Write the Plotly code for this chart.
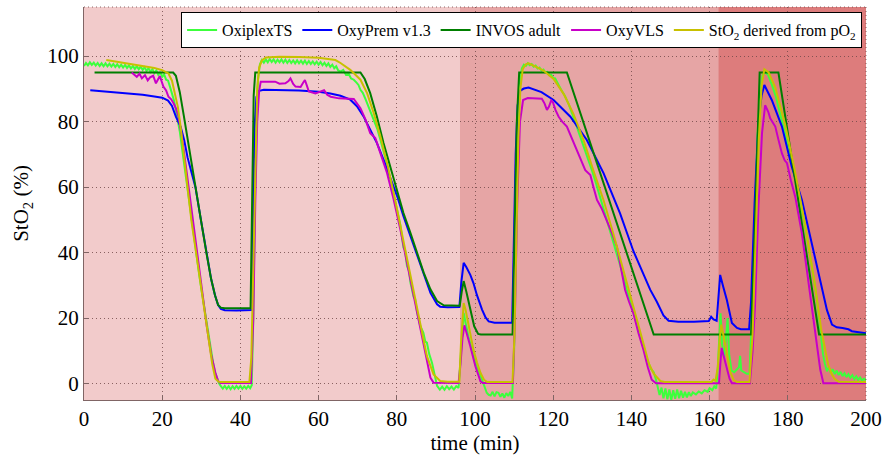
import plotly.graph_objects as go

# ---------------- data (time in min, StO2 in %) ----------------
oxiplex_t = [0, 0.5, 1, 1.5, 2, 2.5, 3, 3.5, 4, 4.5, 5, 5.5, 6, 6.5, 7, 7.5, 8, 8.5, 9, 9.5,
             10, 10.5, 11, 11.5, 12, 12.5, 13, 13.5, 14, 14.5, 15, 15.5, 16, 16.5, 17, 17.5, 18, 18.5, 19, 19.5,
             20, 20.5, 21, 21.5, 22, 22.5, 23, 23.5, 24, 24.5, 25, 25.5, 26, 26.5, 27, 27.5, 28, 28.5, 29, 29.5,
             30, 30.5, 31, 31.5, 32, 32.5, 33, 33.5, 34, 34.5, 35, 35.5, 36, 36.5, 37, 37.5, 38, 38.5, 39, 39.5,
             40, 40.5, 41, 41.5, 42, 42.5, 42.9, 43.3, 43.7, 44.1, 44.5, 45, 45.5, 46, 46.5, 47, 47.5, 48, 48.5, 49, 49.5,
             50, 50.5, 51, 51.5, 52, 52.5, 53, 53.5, 54, 54.5, 55, 55.5, 56, 56.5, 57, 57.5, 58, 58.5, 59, 59.5,
             60, 60.5, 61, 61.5, 62, 62.5, 63, 63.5, 64, 64.5, 65, 65.6, 66.3, 67, 67.7, 68.3, 69, 69.7, 70.2, 70.7,
             71.3, 72, 72.4, 73, 73.5, 74.1, 75, 75.8, 76.6, 77.5, 78.3, 79.2, 80, 80.9, 81.7, 82.1, 82.6, 83.1, 83.5,
             84.3, 84.7, 85.2, 86, 86.8, 87.3, 87.7, 88.3, 89, 89.6, 90.3, 91, 91.6, 92.2, 92.8, 93.4, 94, 94.6, 95.2,
             95.8, 96.3, 96.8, 97.1, 97.6, 98.3, 99.2, 100.2, 101.4, 102.5, 103, 103.5, 104, 104.5, 105, 105.5, 106,
             106.5, 107, 107.5, 108, 108.5, 109, 109.5, 110, 110.5, 111, 111.5, 112, 112.5, 113, 113.5, 114, 114.5,
             115, 115.5, 116, 116.5, 117, 117.5, 118, 118.5, 119, 119.5, 120, 120.5, 121, 121.5, 122, 123, 124, 125,
             126, 127, 128, 129, 130, 131, 132, 133, 134, 135, 136, 137, 138, 139, 140, 141, 142, 143, 144, 145,
             145.7, 146.3, 146.8, 147.2, 147.7, 148.2, 148.7, 149.2, 149.7, 150.2, 150.7, 151.2, 151.7, 152.2, 152.7,
             153.2, 153.7, 154.2, 154.7, 155.2, 155.7, 156.5, 157.2, 158, 158.7, 159.5, 160, 160.7, 161.2, 161.7,
             162.1, 162.5, 162.8, 163.2, 163.7, 164.2, 164.6, 165, 165.6, 166.3, 167, 167.5, 167.8, 168.1, 168.8,
             169.5, 170.2, 170.8, 171.5, 172.2, 172.9, 173.5, 174, 174.5, 175, 176, 177, 178, 179, 180, 181, 182,
             183, 184, 185, 186, 187, 187.6, 188, 188.5, 189, 189.5, 190, 190.5, 191, 191.5, 192, 192.5, 193, 193.5,
             194, 194.5, 195, 195.5, 196, 196.5, 197, 197.5, 198, 198.5, 199, 199.5, 200]
oxiplex_v = [97.0, 97.9, 97.2, 98.1, 97.3, 98.0, 97.1, 97.9, 97.0, 97.8, 96.9, 97.8, 96.9, 97.7, 96.8, 97.6, 96.7, 97.5, 96.6, 97.4,
             96.5, 97.3, 96.4, 97.2, 96.2, 97.0, 96.1, 96.9, 96.0, 96.8, 95.8, 96.6, 95.5, 96.3, 95.2, 96.0, 94.8, 95.6, 94.3, 95.1,
             93.7, 94.4, 92.8, 92.5, 90.6, 88.5, 86.5, 83.5, 80.5, 77.0, 72.5, 68.0, 63.5, 58.5, 54.5, 50.0, 46.0, 42.0, 37.5, 33.0,
             29.0, 25.0, 21.0, 17.0, 13.5, 10.0, 6.5, 3.5, 1.8, 0.2, -0.8, -1.5, -0.7, -1.6, -0.8, -1.7, -0.8, -1.6, -0.7, -1.5,
             -0.7, -1.6, -0.8, -1.5, -0.7, -1.4, -0.5, 20.0, 55.0, 82.0, 93.0, 97.5, 98.8, 98.0, 99.0, 98.1, 99.1, 98.2, 99.0, 98.0, 98.9,
             98.1, 99.0, 98.0, 98.9, 97.9, 98.8, 97.9, 98.7, 97.8, 98.7, 97.8, 98.6, 97.7, 98.6, 97.6, 98.5, 97.6, 98.4, 97.5, 98.3,
             97.4, 98.2, 97.2, 98.0, 97.0, 97.8, 96.7, 97.4, 96.3, 96.9, 95.6, 95.3, 95.8, 94.3, 94.6, 93.2, 92.8, 91.9, 91.2, 89.7,
             88.8, 86.9, 85.7, 84.2, 82.9, 80.6, 77.8, 74.5, 71.0, 67.0, 62.5, 58.0, 53.5, 48.5, 41.5, 40.8, 35.9, 34.5, 30.8,
             26.5, 25.8, 21.6, 17.6, 15.5, 12.8, 12.5, 9.0, 6.4, 3.5, -0.7, -1.8, -0.9, -1.9, -0.8, -1.7, -0.9, -1.8, -0.8,
             -1.3, 8.0, 18.0, 21.6, 18.5, 14.5, 10.5, 6.0, 2.5, -1.5, -2.8, -3.4, -3.6, -2.5, -3.9, -2.6, -2.8,
             -4.0, -3.0, -4.3, -2.9, -3.8, -2.5, -4.5, 10.0, 45.0, 80.0, 93.0, 96.3, 97.4, 97.0, 97.8, 97.2, 97.6,
             96.8, 97.1, 96.2, 96.5, 95.6, 95.9, 95.0, 95.2, 94.2, 94.3, 93.3, 93.2, 92.0, 91.3, 89.8, 87.8, 85.2, 82.0,
             78.6, 75.5, 72.0, 68.5, 64.8, 61.0, 57.0, 53.0, 49.0, 45.0, 41.0, 36.5, 32.5, 28.0, 24.0, 20.0, 16.0, 11.5, 7.5, 4.5,
             3.5, 1.2, -1.5, -3.5, -1.2, -4.5, -1.5, -4.8, -1.8, -5.0, -2.0, -4.6, -1.8, -4.5, -2.2,
             -4.3, -2.5, -4.2, -2.6, -3.8, -2.7, -3.3, -2.4, -3.0, -2.0, -2.5, -1.4, -2.0, -0.8, -1.5,
             5.0, 16.0, 21.5, 12.0, 8.0, 14.0, 20.0, 9.0, 4.0, 3.5, 4.5, 5.0, 8.5, 4.0, 3.5,
             3.0, 3.0, 20.0, 48.0, 75.0, 89.0, 94.0, 95.3, 94.8, 94.2, 91.0, 87.5, 82.5, 78.0, 73.0, 68.0, 62.5,
             56.5, 50.5, 44.0, 37.0, 29.5, 24.0, 19.5, 15.0, 9.0, 6.0, 3.8, 5.0, 3.3, 4.4, 2.9, 4.0, 2.6, 3.6,
             2.3, 3.2, 2.0, 2.9, 1.8, 2.6, 1.4, 2.2, 1.2, 1.9, 0.9, 1.5, 1.0]

oxyprem_t = [1.6, 5, 10, 15, 18, 20, 21.5, 22.5, 23.5, 24.7, 25.6, 26.5, 27.5, 28.5, 29.9, 31.3, 32.5, 33.5, 34.3, 35, 36, 39,
             42.8, 43.2, 43.6, 44.1, 44.8, 46, 50, 55, 60, 63, 65.6, 68.1, 69.8, 71.5, 73.2, 74.9, 76.6, 78.3, 80.1, 81.7,
             83.5, 85.2, 86.9, 88.6, 90.3, 91.1, 93, 96, 96.5, 97.1, 97.8, 98.8, 99.6, 100.5, 101.8, 102.7, 103.5, 105,
             109.5, 109.9, 110.4, 110.9, 111.6, 112.5, 113.7, 117, 120.1, 124.4, 128.6, 132.9, 137.1, 140.5, 144.8,
             146.5, 148.2, 149.5, 152, 156, 159.8, 160.4, 161, 161.8, 162.2, 162.7, 163.5, 164.4, 165.7, 167, 168,
             170.1, 170.6, 171.5, 172.5, 173.3, 174, 175.9, 178.5, 181, 183.6, 186.1, 188.7, 190, 191.3, 192.5, 194,
             195.5, 196.4, 198, 200]
oxyprem_v = [89.6, 89.3, 88.8, 88.2, 87.7, 87.3, 86.4, 84.8, 81.5, 78.5, 74.5, 69.0, 64.5, 60.0, 50.0, 40.0, 32.0, 27.0, 24.0, 22.8, 22.4, 22.3,
             22.5, 50.0, 78.0, 87.5, 89.4, 89.7, 89.7, 89.5, 89.1, 88.6, 87.9, 86.7, 84.7, 81.6, 77.5, 73.5, 68.4, 62.8, 57.2, 51.1,
             45.0, 38.9, 32.8, 27.7, 24.2, 23.5, 23.3, 23.4, 31.0, 36.9, 35.5, 33.2, 30.7, 27.0, 22.6, 20.2, 19.0, 18.6,
             18.6, 40.0, 70.0, 85.0, 89.5, 90.1, 90.4, 89.0, 86.6, 81.5, 74.4, 64.2, 52.0, 40.5, 28.7,
             25.0, 20.8, 19.2, 18.9, 18.9, 19.1, 20.4, 19.6, 19.2, 26.0, 33.2, 29.5, 25.6, 18.5, 17.0, 16.6,
             16.6, 25.0, 55.0, 80.0, 88.0, 91.2, 86.6, 78.5, 66.3, 56.1, 42.9, 29.7, 22.5, 18.0, 17.2, 17.0,
             16.6, 16.0, 15.8, 15.4]

invos_t = [2.7, 22.8, 23.5, 24.5, 25.5, 26.5, 27.5, 28.5, 29.9, 31.3, 32.5, 33.5, 34.3, 35, 36, 42.6, 43.0, 43.4, 43.8,
           70.7, 71.8, 73.2, 74.9, 76.6, 78.3, 80.1, 81.7, 83.5, 85.2, 86.9, 88.6, 90.3, 92, 96.1, 96.6, 97.1, 97.8,
           98.8, 99.8, 100.8, 101.5, 109.6, 110.1, 110.7, 111.3, 123.5, 145.7, 170.6, 171.5, 172.2, 172.8, 177.6,
           188.0, 200]
invos_v = [95, 95, 94, 89, 82, 75, 67.5, 60, 50, 40, 32, 27, 24, 23.2, 23, 23, 60, 88, 95,
           95, 93, 88.7, 81.6, 73.5, 66.4, 59.2, 52.1, 46, 39.9, 33.8, 28.8, 25.2, 23.9, 23.8, 28, 31.3, 28,
           22.6, 17.5, 15.2, 15, 15, 45, 80, 95, 95, 15, 15, 45, 75, 95, 95,
           15, 15]

oxyvls_t = [12.2, 13.5, 14.2, 14.8, 15.6, 16.3, 16.9, 17.7, 18.4, 19.0, 19.4, 20.3, 21, 21.6, 22.3, 22.9, 23.6, 24.2, 25.2,
            26.3, 27.6, 28.9, 30.2, 31.4, 32.5, 33.6, 34.3, 34.9, 42.7, 43.3, 43.8, 44.3, 44.8, 45.2, 48.9, 50, 51.5,
            52.3, 52.8, 53.5, 54.1, 55.4, 56, 56.5, 57, 57.5, 59.2, 60.2, 61.4, 62.2, 63.1, 65.2, 69, 70.7, 72, 73.2,
            74.5, 75.8, 77.5, 79.2, 80.9, 82.6, 84.3, 86, 87.3, 88.6, 89.4, 95.8, 96.3, 96.8, 97.3, 97.9, 98.8, 100.1,
            101.4, 102, 109.7, 110.2, 110.8, 111.5, 112.3, 113.5, 115, 117.1, 117.8, 118.4, 118.9, 119.5, 119.9,
            120.6, 121.4, 122.3, 123.5, 124.8, 126.1, 127.2, 128.2, 129.5, 130.3, 131.2, 132.4, 133.7, 135, 136.3,
            137.4, 138.4, 139.4, 140.5, 141.8, 143.1, 144.2, 145.2, 146.3, 162.4, 162.8, 163.1, 163.7, 164.4, 165.1,
            165.7, 170.3, 171, 171.6, 172.5, 173.4, 174.2, 175, 175.5, 176.2, 176.8, 177.6, 178.5, 179.2, 179.8,
            180.8, 181.9, 183.6, 185.3, 187, 188.3, 189.1, 200]
oxyvls_v = [95, 93.7, 94.6, 93.2, 94.2, 92.6, 93.5, 94, 91.7, 93.2, 93.9, 90.7, 89.5, 87.6, 86.8, 85.6, 83.8, 81.5, 74,
            64.2, 52, 39.8, 28.5, 17.5, 9, 3.3, 0.8, 0.2, 0.2, 20, 55, 80, 89.5, 92.2, 92.2, 91.6, 91.7,
            92.4, 93.2, 91.5, 90.7, 90.6, 91.8, 92.7, 91, 89.2, 88.6, 89.0, 89.6, 88.2, 87.6, 87.1, 86.9, 84.1, 80.6, 76.5,
            75, 70.4, 64.3, 56.2, 47.1, 36.9, 26.7, 17.6, 9.5, 1.8, 0.3, 0.2, 6, 14, 17.8, 15.5, 11.4, 5.3,
            0.7, 0.2, 0.2, 20, 55, 80, 86.6, 87.2, 87.2, 87, 85.5, 83.6, 84.5, 86.5, 86,
            83.5, 81.5, 80, 78.5, 75, 71.4, 68, 65.2, 63.7, 60, 56.1, 53.5, 50, 46, 41.8,
            35, 28.6, 25, 21.5, 15.5, 10.3, 5, 1.2, 0.1, 0.1, 7, 10.9, 8, 4.3, 1.5,
            0.1, 0.1, 10, 23.6, 54, 76.4, 85, 83, 81, 79.5, 78.5, 74.5, 70.3, 68.2, 67.3,
            62, 57.1, 45.9, 30.7, 16.5, 4.3, 0.1, 0.1]

sto2pq_t = [5.7, 10, 15, 18, 20, 21.6, 22.5, 23.3, 24.0, 24.6, 25.5, 26.3, 27.5, 28.7, 30.3, 31.9, 32.8, 33.6, 34.4, 35,
            42.3, 42.8, 43.3, 43.8, 44.3, 44.8, 45.5, 46.5, 50, 55, 60, 64.3, 65.6, 68.1, 70.7, 72.4, 74.1, 75.8, 77.5,
            79.2, 80.9, 82.6, 84.3, 86, 87.7, 89.4, 91.1, 93, 96, 96.4, 96.8, 97.1, 97.6, 98.4, 99.6, 100.5, 101.4,
            102.3, 103.1, 109.6, 110.1, 110.6, 111.1, 111.6, 112.2, 113, 113.7, 115.5, 117.5, 120.1, 122.7, 125.2,
            127.8, 130.3, 132.9, 135.4, 138, 140.5, 143.1, 144.5, 145.7, 147.4, 148.5, 160.5, 161, 161.5, 162.1,
            162.6, 163, 163.5, 164.5, 165.3, 166.2, 167, 170.2, 171, 171.8, 172.6, 173.3, 174, 175.1, 176.8, 179.3,
            181.8, 184.4, 186.9, 188.6, 190.3, 191.2, 192, 193, 200]
sto2pq_v = [98.8, 98.0, 97.0, 96.4, 95.7, 94.7, 92.5, 88.6, 84.5, 79.5, 70, 60.2, 49.5, 39.8, 26, 13.4, 6, 1.5, 0.6, 0.5,
            0.5, 8, 35, 70, 90, 96.5, 98.7, 99.6, 99.8, 99.7, 99.5, 98.8, 97.9, 95.8, 92.8, 88.7, 82.6, 75.5, 67.4,
            58.2, 48.1, 37.9, 27.7, 17.6, 8.4, 2.8, 0.8, 0.6, 0.6, 12, 21, 24.6, 22.5, 17.5, 10.4, 6.5, 3.3,
            1.2, 0.5, 0.5, 15, 45, 75, 90, 96, 97.5, 97.8, 96.8, 95.6, 93, 88.4, 82.3,
            74.2, 65, 55.9, 45.7, 34.6, 23.4, 12.2, 6, 3, 0.8, 0.5, 0.5, 1.2, 0.8, 5,
            14, 18, 15, 8, 3.5, 1, 0.5, 0.5, 15, 45, 75, 91, 96, 95, 90.4, 79.2,
            65, 48.7, 30.4, 16.1, 6, 3, 1.4, 0.6, 0.5]

series = [
    ("OxiplexTS", oxiplex_t, oxiplex_v, "#3cff3c"),
    ("OxyPrem v1.3", oxyprem_t, oxyprem_v, "#0000ff"),
    ("INVOS adult", invos_t, invos_v, "#007f00"),
    ("OxyVLS", oxyvls_t, oxyvls_v, "#c800c8"),
    ("StO<sub>2</sub> derived from pO<sub>2</sub>", sto2pq_t, sto2pq_v, "#c8c000"),
]

# shaded phases (time boundaries) and their colours
phase_edges = [0, 96.1, 162.2, 200]
phase_colors = ["#f2cbcb", "#e6a5a5", "#dd7c7c"]

x_ticks = [0, 20, 40, 60, 80, 100, 120, 140, 160, 180, 200]
y_ticks = [0, 20, 40, 60, 80, 100]

FONT = "Liberation Serif, Times New Roman, serif"
GRID = "rgba(110,70,70,0.8)"
AXC = "#806565"
DOT = "1px,3px"

fig = go.Figure()
for name, t, v, c in series:
    fig.add_trace(go.Scatter(x=t, y=v, mode="lines", name=name,
                             line=dict(color=c, width=2)))

shapes = []
for i, col in enumerate(phase_colors):
    shapes.append(dict(type="rect", xref="x", yref="paper",
                       x0=phase_edges[i], x1=phase_edges[i + 1], y0=0, y1=1,
                       fillcolor=col, line=dict(width=0), layer="below"))
# dotted top / right box edges
shapes.append(dict(type="line", xref="paper", yref="paper", x0=0, x1=1, y0=1, y1=1,
                   line=dict(color=GRID, width=1, dash=DOT), layer="above"))
shapes.append(dict(type="line", xref="paper", yref="paper", x0=1, x1=1, y0=0, y1=1,
                   line=dict(color=GRID, width=1, dash=DOT), layer="above"))

tick_font = dict(family=FONT, size=21, color="black")
title_font = dict(family=FONT, size=21, color="black")

fig.update_layout(
    template="none",
    width=885, height=455,
    margin=dict(l=84, r=19, t=7, b=55),
    paper_bgcolor="white",
    plot_bgcolor="white",
    font=dict(family=FONT, size=20, color="black"),
    shapes=shapes,
    showlegend=True,
    legend=dict(orientation="h", x=0.995, xanchor="right", y=0.987, yanchor="top",
                bgcolor="white", bordercolor="black", borderwidth=1,
                font=dict(family=FONT, size=16, color="black"),
                itemwidth=30, tracegroupgap=0),
    xaxis=dict(range=[0, 200], tickmode="array", tickvals=x_ticks, ticktext=[str(v) for v in x_ticks],
               showgrid=True, gridcolor=GRID, griddash=DOT, gridwidth=1,
               zeroline=False, showline=True, linecolor=AXC, linewidth=1, mirror=False,
               ticks="inside", ticklen=5, tickcolor=AXC,
               title=dict(text="time (min)", standoff=2, font=title_font), tickfont=tick_font),
    yaxis=dict(range=[-5, 115], tickmode="array", tickvals=y_ticks, ticktext=[str(v) for v in y_ticks],
               showgrid=True, gridcolor=GRID, griddash=DOT, gridwidth=1,
               zeroline=False, showline=True, linecolor=AXC, linewidth=1, mirror=False,
               ticks="inside", ticklen=5, tickcolor=AXC,
               title=dict(text="StO<sub>2</sub> (%)", standoff=12, font=title_font), tickfont=tick_font),
    xaxis2=dict(overlaying="x", side="top", range=[0, 200], tickmode="array", tickvals=x_ticks,
                showticklabels=False, showgrid=False, zeroline=False, showline=False,
                ticks="inside", ticklen=5, tickcolor=AXC),
    yaxis2=dict(overlaying="y", side="right", range=[-5, 115], tickmode="array", tickvals=y_ticks,
                showticklabels=False, showgrid=False, zeroline=False, showline=False,
                ticks="inside", ticklen=5, tickcolor=AXC),
)

fig.write_html("out.html")
